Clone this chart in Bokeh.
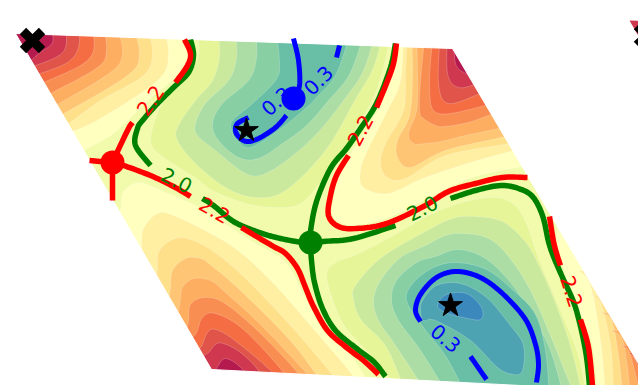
from bokeh.plotting import figure
from bokeh.models import Range1d
from bokeh.core.properties import value
from bokeh.embed import file_html
from bokeh.resources import INLINE
import math

C = ["#3b88bd","#4da3b1","#68bfa6","#88cfa4","#abdda4","#cbe99d","#e6f598","#f2faac","#ffffbf",
     "#feefa3","#fee08b","#fdc574","#fdae61","#f98e52","#f46d43","#e0544a","#d0384f","#b51a4f"]

# ---- level boundaries: (level colour index, boundary points)
TOP_LEFT = [
 (8,[(182,25),(188,53),(180,72),(150,98),(125,122),(110,135),(83,150),(70,158)]),
 (9,[(163,25),(168,55),(157,80),(100,118),(70,132),(55,140)]),
 (10,[(147,25),(152,53),(143,75),(100,100),(65,125),(50,130)]),
 (11,[(132,25),(139,53),(127,75),(60,115),(45,122)]),
 (12,[(117,25),(122,53),(110,72),(55,105),(40,112)]),
 (13,[(103,25),(106,50),(97,67),(50,93),(35,100)]),
 (14,[(92,25),(93,50),(80,65),(43,82),(30,88)]),
 (15,[(79,25),(78,47),(67,62),(40,73),(25,78)]),
 (16,[(66,25),(65,47),(55,57),(35,65),(20,70)]),
 (17,[(50,25),(52,42),(38,53),(30,60),(20,64)]),
]
TOP_RIGHT = [
 (8,[(399,30),(392,70),(380,105),(352,150),(338,178),(333,200),(332,215),(342,223),(358,224),(386,218),(423,200),(448,187),(478,175),(522,166),(535,163)]),
 (9,[(403,30),(400,80),(387,110),(367,150),(360,170),(363,187),(388,193),(422,178),(470,162),(513,150),(525,146)]),
 (10,[(407,30),(405,70),(403,110),(385,143),(380,163),(387,177),(405,178),(445,155),(509,143),(522,139)]),
 (11,[(411,30),(412,75),(409,115),(397,140),(397,157),(410,167),(445,150),(505,136),(520,131)]),
 (12,[(416,30),(417,75),(416,110),(408,133),(413,143),(425,143),(441,141),(465,135),(498,128),(515,123)]),
 (13,[(425,30),(420,80),(419,110),(423,118),(435,125),(445,126),(468,122),(488,115),(505,110)]),
 (14,[(433,30),(429,87),(438,113),(485,105),(500,100)]),
 (15,[(440,30),(438,83),(448,103),(480,93),(495,88)]),
 (16,[(447,30),(447,73),(458,87),(477,83),(490,78)]),
 (17,[(454,30),(455,63),(467,74),(480,80)]),
]
BOTTOM_LEFT = [
 (8,[(112,225),(120,208),(122,193),(132,184),(143,183),(170,194),(200,208),(250,240),(285,262),(305,298),(325,333),(350,355),(376,395)]),
 (9,[(140,262),(141,248),(143,228),(157,213),(173,215),(210,233),(240,252),(275,285),(310,325),(350,372),(365,395)]),
 (10,[(155,285),(157,267),(158,252),(170,240),(187,238),(213,251),(245,278),(290,325),(330,372),(345,395)]),
 (11,[(168,302),(170,287),(172,270),(185,258),(200,258),(212,266),(240,290),(287,337),(313,370),(330,395)]),
 (12,[(178,312),(180,298),(182,287),(193,278),(210,280),(225,292),(260,324),(307,374),(320,395)]),
 (13,[(186,330),(188,320),(190,304),(203,297),(223,302),(257,330),(297,372),(310,395)]),
 (14,[(185,340),(195,334),(202,317),(215,313),(243,329),(283,372),(295,395)]),
 (15,[(190,352),(200,347),(207,332),(215,329),(233,339),(272,372),(285,395)]),
 (16,[(198,358),(208,352),(215,344),(223,343),(240,352),(258,370),(272,395)]),
 (17,[(205,378),(215,369),(225,358),(243,370),(255,395)]),
]
BOTTOM_RIGHT = [
 (8,[(560,200),(556,241),(560,256),(570,290),(584,322),(593,350),(597,395)]),
 (9,[(578,270),(590,285),(600,340),(605,395)]),
 (10,[(590,295),(600,302),(610,345),(613,395)]),
 (11,[(600,312),(611,320),(618,355),(622,395)]),
 (12,[(610,330),(621,337),(626,360),(630,395)]),
 (13,[(620,345),(628,350),(634,370),(640,395)]),
 (14,[(628,352),(634,358),(640,372),(650,395)]),
]
UPPER_BASIN = [
 (6,[(197,25),(198,55),(186,75),(165,97),(152,128),(153,148),(180,168),(195,177),(212,190),(246,203),(275,207),(300,203),(323,178),(346,145),(356,128),(373,97),(383,67),(392,25)]),
 (5,[(217,25),(219,55),(212,80),(195,100),(178,125),(177,140),(195,163),(225,187),(255,197),(285,190),(325,150),(356,97),(373,67),(385,25)]),
 (4,[(235,25),(236,57),(228,80),(205,103),(195,123),(197,135),(215,150),(245,173),(265,173),(295,153),(321,128),(343,100),(363,70),(377,25)]),
 (3,[(255,25),(256,57),(248,80),(222,103),(212,123),(218,140),(238,157),(258,158),(282,143),(306,125),(328,100),(350,72),(366,25)]),
 (2,[(275,25),(279,63),(275,80),(252,103),(232,120),(231,130),(237,140),(250,147),(278,130),(305,108),(316,97),(336,73),(352,25)]),
]
LOWER_BASIN = [
 (6,[(322,395),(331,297),(326,274),(335,262),(356,254),(393,235),(426,216),(458,203),(492,197),(512,203),(525,221),(537,255),(560,310),(578,355),(586,395)]),
 (5,[(353,300),(355,285),(381,257),(425,231),(452,218),(475,216),(502,221),(522,238),(534,256),(552,295),(570,345),(582,395)]),
 (4,[(373,300),(380,280),(400,257),(425,245),(445,235),(463,233),(488,238),(508,256),(530,290),(552,340),(574,395)]),
 (3,[(391,300),(396,280),(416,262),(435,256),(458,249),(485,258),(510,282),(530,312),(550,350),(563,395)]),
 (2,[(406,300),(413,282),(433,267),(456,262),(486,269),(513,290),(535,314),(545,350),(549,395)]),
 (1,[(422,300),(436,285),(460,283),(486,297),(510,325),(523,345),(522,370),(513,374),(497,367),(470,340),(435,320),(423,320),(420,310)]),
 (0,[(437,305),(446,294),(466,293),(481,307),(480,319),(463,317),(445,312)]),
]
LOWER_TAILS = {5:[(353,300),(361,320),(386,347),(406,395)],
               4:[(373,300),(378,320),(395,345),(428,395)],
               3:[(391,300),(398,320),(420,350),(448,395)],
               2:[(406,300),(423,327),(446,357),(466,395)]}
LOWER_6_TAIL = [(331,297),(343,324),(363,347),(388,376),(396,395)]

# ---- contour lines
GREEN = [
 [(190,39),(193,55),(188,72),(173,87),(157,103),(142,120),(137,128),(135,145),(150,165)],
 [(202,198),(213,205),(233,221),(256,231),(280,238),(310,243),(323,241),(353,238),(395,225)],
 [(310,243),(310,231),(316,201),(330,168),(346,148),(360,128),(376,103),(390,67),(395,43)],
 [(310,243),(311,260),(314,282),(322,308),(335,330),(356,348),(373,361),(385,376)],
 [(450,198),(475,190),(500,185),(518,188),(532,196),(542,215),(548,241),(553,256),(562,277),(575,307),(585,350),(589,385)],
]
RED = [
 [(184,39),(190,53),(187,65),(175,82)],
 [(132,122),(128,128),(117,151),(112,162)],
 [(89,160),(100,161),(112,162)],
 [(112,162),(112,175),(112,200)],
 [(112,162),(123,165),(150,175),(173,186),(190,196)],
 [(241,227),(256,236),(273,246),(285,253),(297,268),(305,287),(313,306),(327,330),(346,347),(363,360),(378,374)],
 [(396,43),(393,63),(386,83),(376,107)],
 [(348,155),(336,175),(330,195),(328,215),(338,226),(356,228),(386,223),(423,206),(448,191),(475,183),(502,177),(527,177)],
 [(549,216),(553,241),(557,256),(560,265)],
 [(580,319),(588,347),(592,385)],
]
BLUE = [
 [(293,38),(298,60),(299,85),(293,98)],
 [(339,45),(336,57)],
 [(286,115),(275,127),(258,138),(246,141),(238,136),(235,130),(237,123),(248,117)],
 [(420,321),(415,310),(420,294),(436,277),(456,271),(480,277),(503,294),(525,319),(535,344),(538,364),(536,382)],
 [(470,356),(486,379)],
]
LABELS = [("2.2",150,100,55,"red"),("2.0",176,180,-27,"green"),("2.2",214,210,-30,"red"),
          ("2.2",360,130,62,"red"),("2.0",422,208,27,"green"),("2.2",571,291,-72,"red"),
          ("0.3",318,80,45,"blue"),("0.3",276,101,42,"blue"),("0.3",445,338,-40,"blue")]
MIN_X, MIN_Y = [246,450], [130,305]
CORNER_X, CORNER_Y = [32,646], [40,35]
DOTS = [(112,162,"red"),(293,98,"blue"),(310,242,"green")]
CELL = [(15,33),(452,48),(655,392),(211,369)]

def smooth(pts, closed=False, n=10):
    P = list(pts)
    if closed:
        P = [P[-1]] + P + P[:2]
    else:
        P = [P[0]] + P + [P[-1]]
    xs, ys = [], []
    for i in range(1, len(P)-2):
        p0,p1,p2,p3 = P[i-1],P[i],P[i+1],P[i+2]
        for k in range(n):
            t = k/n
            f = lambda a,b,c,d: 0.5*(2*b+(c-a)*t+(2*a-5*b+4*c-d)*t*t+(3*b-a-3*c+d)*t**3)
            xs.append(f(p0[0],p1[0],p2[0],p3[0])); ys.append(f(p0[1],p1[1],p2[1],p3[1]))
    if not closed:
        xs.append(P[-1][0]); ys.append(P[-1][1])
    return xs, ys

p = figure(width=638, height=385, x_range=Range1d(0,638), y_range=Range1d(385,0),
           output_backend="svg", toolbar_location=None, min_border=0, background_fill_color="white")
p.axis.visible = False
p.grid.visible = False
p.outline_line_color = None

def band(xs, ys, c):
    p.patch(xs, ys, fill_color=C[c], line_color="#ffffff", line_alpha=0.35, line_width=0.6)

p.patch([q[0] for q in CELL], [q[1] for q in CELL], fill_color=C[7], line_color=None)

for c, pts in TOP_LEFT:
    xs, ys = smooth(pts); band(xs+[8,8,xs[0]], ys+[ys[-1],25,25], c)
for c, pts in TOP_RIGHT:
    xs, ys = smooth(pts); band(xs+[600,600], ys+[ys[-1],30], c)
for c, pts in BOTTOM_LEFT:
    xs, ys = smooth(pts); band(xs+[80,80], ys+[395,ys[0]], c)
for c, pts in BOTTOM_RIGHT:
    xs, ys = smooth(pts); band(xs+[680,680], ys+[395,ys[0]], c)
for c, pts in UPPER_BASIN:
    xs, ys = smooth(pts); band(xs, ys, c)
for c, pts in LOWER_BASIN:
    if c == 6:
        full = LOWER_6_TAIL[::-1] + pts[1:]
    elif c in LOWER_TAILS:
        full = LOWER_TAILS[c][::-1] + pts[1:]
    else:
        full = pts
    xs, ys = smooth(full, closed=c < 2)
    band(xs, ys, c)

# white outside the cell
W = "#ffffff"
a,b,cc,d = CELL
p.patch([-50,700,700,b[0],a[0],-50],[-50,-50,b[1],b[1],a[1],a[1]],fill_color=W,line_color=W)
p.patch([-50,a[0],d[0],-50],[a[1],a[1],d[1],440],fill_color=W,line_color=W)
p.patch([b[0],700,700,cc[0]],[b[1],b[1],440,cc[1]],fill_color=W,line_color=W)
p.patch([d[0],cc[0],700,-50],[d[1],cc[1],440,440],fill_color=W,line_color=W)
p.patch([629,640,640],[20,20.4,39],fill_color=C[16],line_color=None)

for seg in GREEN:
    xs, ys = smooth(seg); p.line(xs, ys, line_color="green", line_width=5.5, line_cap="butt", line_join="round")
for seg in RED:
    xs, ys = smooth(seg); p.line(xs, ys, line_color="red", line_width=5.5, line_cap="butt", line_join="round")
for seg in BLUE:
    xs, ys = smooth(seg); p.line(xs, ys, line_color="blue", line_width=5, line_cap="butt", line_join="round")

for t,x,y,ang,col in LABELS:
    p.text([x],[y],text=[t],angle=[math.radians(ang)],text_color=col,text_font=value("DejaVu Sans"),
           text_font_size="20px",text_align="center",text_baseline="middle")

for x,y,col in DOTS:
    p.scatter([x],[y],marker="circle",size=24,fill_color=col,line_color=col,line_width=0)
p.scatter(MIN_X,MIN_Y,marker="star",size=25,fill_color="black",line_color="black")
p.scatter(CORNER_X,CORNER_Y,marker="x",size=27,line_color="black",line_width=9)

open("out.html","w").write(file_html(p, INLINE))
